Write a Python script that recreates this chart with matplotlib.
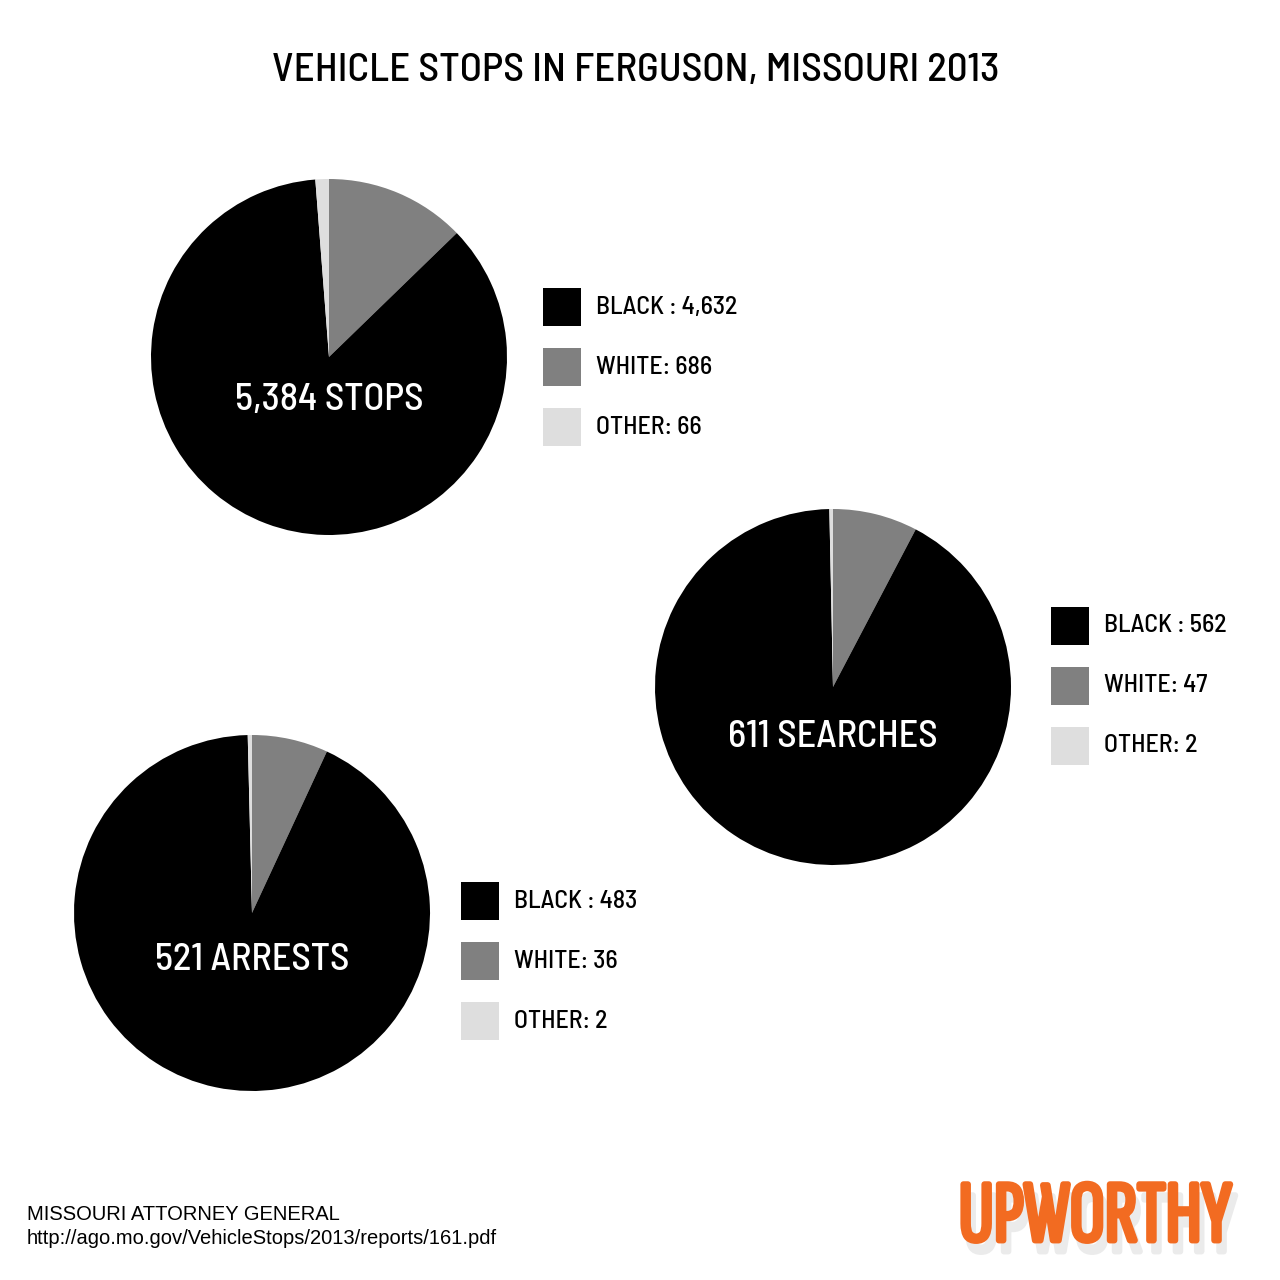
import matplotlib.pyplot as plt
from matplotlib import patheffects

# data
races = ['BLACK', 'WHITE', 'OTHER']
stops = [4632, 686, 66]
searches = [562, 47, 2]
arrests = [483, 36, 2]
totals_labels = ['5,384 STOPS', '611 SEARCHES', '521 ARRESTS']

colors = {'BLACK': '#000000', 'WHITE': '#808080', 'OTHER': '#dedede'}
H = 1280

fig = plt.figure(figsize=(12.8, 12.8), dpi=100)
ax = fig.add_axes([0, 0, 1, 1])
ax.set_aspect('equal')

din = dict(family=['Barlow Semi Condensed', 'DejaVu Sans'], weight='medium')

# pie center (px), label y, legend square x, legend top y
layout = [
    (stops, (329, 357), 400, 543, 288),
    (searches, (833, 687), 737, 1051, 607),
    (arrests, (252, 913), 960, 461, 882),
]

for (vals, (cx, cy), ly, lx, ltop), total in zip(layout, totals_labels):
    # clockwise from top: white, black, other
    order = [1, 0, 2]
    ax.pie([vals[i] for i in order], colors=[colors[races[i]] for i in order],
           startangle=90, counterclock=False, radius=178,
           center=(cx, H - cy), frame=True)
    ax.text(cx, H - ly, total, color='white', fontsize=27.5, ha='center',
            va='center', **din)
    for k, race in enumerate(races):
        top = ltop + 60 * k
        ax.add_patch(plt.Rectangle((lx, H - top - 38), 38, 38,
                                   color=colors[race], lw=0))
        sep = ' : ' if race == 'BLACK' else ': '
        ax.text(lx + 53, H - top - 19, f'{race}{sep}{vals[k]:,}',
                fontsize=18.6, ha='left', va='center', **din)

ax.set_xlim(0, 1280)
ax.set_ylim(0, 1280)
ax.axis('off')

ax.text(636, H - 71, 'VEHICLE STOPS IN FERGUSON, MISSOURI 2013', fontsize=29.4,
        ha='center', va='center', **din)

ax.text(27, H - 1214, 'MISSOURI ATTORNEY GENERAL', fontsize=14.5,
        family='Liberation Sans', ha='left', va='center')
ax.text(27, H - 1239, 'http://ago.mo.gov/VehicleStops/2013/reports/161.pdf',
        fontsize=14.5, family='Liberation Sans', ha='left', va='center')

# logo with shadow, thickened with a stroke
logo = dict(family=['Sofia Sans Extra Condensed', 'Barlow Condensed', 'DejaVu Sans'],
            fontsize=63, ha='center', va='center')
ax.text(1100, H - 1230, 'UPWORTHY', color='#ebebeb',
        path_effects=[patheffects.withStroke(linewidth=3.5, foreground='#ebebeb')],
        **logo)
ax.text(1095, H - 1219, 'UPWORTHY', color='#f26b21',
        path_effects=[patheffects.withStroke(linewidth=3.5, foreground='#f26b21')],
        **logo)

fig.savefig('out.png', dpi=100, facecolor='white')
